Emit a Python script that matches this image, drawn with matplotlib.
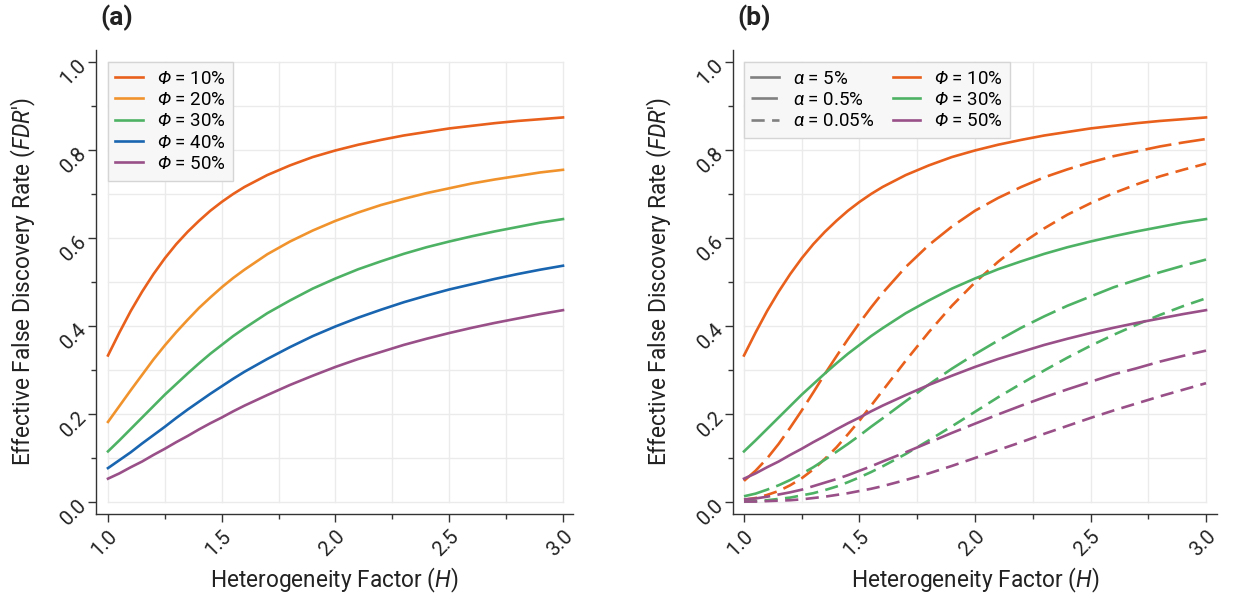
import numpy as np
import matplotlib
matplotlib.use("Agg")
import matplotlib.pyplot as plt
from matplotlib.lines import Line2D

plt.rcParams["font.family"] = ["Roboto", "DejaVu Sans"]
plt.rcParams["mathtext.fontset"] = "custom"
plt.rcParams["mathtext.rm"] = "Roboto"
plt.rcParams["mathtext.it"] = "Roboto:italic"
plt.rcParams["mathtext.bf"] = "Roboto:bold"
# \mathsf is used for italic symbols (mathtext keeps Greek capitals upright in \mathit)
plt.rcParams["mathtext.sf"] = "Roboto:italic"

# heterogeneity factor H
H = [1.0, 1.05, 1.1, 1.15, 1.2, 1.25, 1.3, 1.35, 1.4, 1.45, 1.5, 1.55, 1.6, 1.7, 1.8, 1.9,
     2.0, 2.1, 2.2, 2.3, 2.4, 2.5, 2.6, 2.7, 2.8, 2.9, 3.0]

# panel (a): alpha = 5%, one curve per Phi
phi_labels = ["10%", "20%", "30%", "40%", "50%"]
fdr_a_10 = [0.333, 0.385, 0.434, 0.478, 0.518, 0.554, 0.586, 0.614, 0.639, 0.662, 0.682, 0.700, 0.716, 0.743,
            0.765, 0.784, 0.799, 0.812, 0.823, 0.833, 0.841, 0.849, 0.855, 0.861, 0.866, 0.870, 0.874]
fdr_a_20 = [0.182, 0.218, 0.254, 0.289, 0.324, 0.356, 0.386, 0.414, 0.441, 0.465, 0.488, 0.509, 0.528, 0.563,
            0.592, 0.617, 0.639, 0.658, 0.675, 0.689, 0.702, 0.713, 0.724, 0.733, 0.741, 0.749, 0.755]
fdr_a_30 = [0.115, 0.140, 0.166, 0.192, 0.218, 0.244, 0.268, 0.292, 0.315, 0.337, 0.357, 0.377, 0.395, 0.429,
            0.458, 0.485, 0.508, 0.529, 0.547, 0.564, 0.579, 0.592, 0.604, 0.615, 0.625, 0.635, 0.643]
fdr_a_40 = [0.077, 0.095, 0.113, 0.133, 0.152, 0.171, 0.191, 0.210, 0.228, 0.246, 0.263, 0.280, 0.296, 0.325,
            0.352, 0.377, 0.399, 0.419, 0.437, 0.454, 0.469, 0.483, 0.495, 0.507, 0.518, 0.528, 0.537]
fdr_a_50 = [0.053, 0.065, 0.079, 0.092, 0.107, 0.121, 0.136, 0.150, 0.165, 0.179, 0.192, 0.206, 0.219, 0.243,
            0.266, 0.287, 0.307, 0.325, 0.341, 0.357, 0.371, 0.384, 0.396, 0.407, 0.417, 0.427, 0.436]

# panel (b): alpha = 0.5% and 0.05% for Phi = 10, 30, 50%
fdr_b05_10 = [0.048, 0.071, 0.099, 0.132, 0.169, 0.208, 0.249, 0.291, 0.331, 0.370, 0.407, 0.442, 0.475, 0.534,
              0.584, 0.626, 0.662, 0.691, 0.716, 0.738, 0.756, 0.772, 0.786, 0.797, 0.808, 0.817, 0.825]
fdr_b05_30 = [0.013, 0.019, 0.028, 0.038, 0.050, 0.064, 0.079, 0.096, 0.114, 0.132, 0.151, 0.171, 0.190, 0.229,
              0.267, 0.303, 0.336, 0.367, 0.396, 0.422, 0.446, 0.467, 0.488, 0.505, 0.522, 0.537, 0.551]
fdr_b05_50 = [0.006, 0.008, 0.012, 0.017, 0.022, 0.028, 0.036, 0.044, 0.052, 0.061, 0.071, 0.081, 0.092, 0.113,
              0.135, 0.157, 0.178, 0.199, 0.219, 0.238, 0.256, 0.273, 0.290, 0.304, 0.319, 0.332, 0.344]
fdr_b005_10 = [0.005, 0.009, 0.016, 0.025, 0.038, 0.054, 0.074, 0.098, 0.124, 0.154, 0.185, 0.219, 0.253, 0.321,
               0.386, 0.446, 0.499, 0.546, 0.587, 0.622, 0.653, 0.679, 0.702, 0.722, 0.740, 0.755, 0.769]
fdr_b005_30 = [0.001, 0.002, 0.004, 0.007, 0.010, 0.015, 0.020, 0.027, 0.035, 0.045, 0.056, 0.068, 0.081, 0.109,
               0.140, 0.172, 0.205, 0.238, 0.269, 0.299, 0.328, 0.355, 0.380, 0.403, 0.425, 0.445, 0.463]
fdr_b005_50 = [0.001, 0.001, 0.002, 0.003, 0.004, 0.006, 0.009, 0.012, 0.016, 0.020, 0.025, 0.030, 0.036, 0.050,
               0.065, 0.082, 0.100, 0.118, 0.136, 0.155, 0.173, 0.191, 0.208, 0.224, 0.240, 0.255, 0.270]

colors = ["#E8601C", "#F1932D", "#4EB265", "#1965B0", "#994F88"]
GRID = "#ebebeb"
SPINE = "#333333"
TEXT = "#222222"
LW = 1.9
LONG = (10, 2.8)
SHORT = (5, 2.8)


def style_axes(ax, xlim):
    ax.set_xlim(*xlim)
    ax.set_ylim(-0.0273, 1.0273)
    # grid only inside the data range
    for gx in np.arange(1.0, 3.01, 0.25):
        ax.plot([gx, gx], [0, 1], color=GRID, lw=1.0, zorder=0)
    for gy in np.arange(0.0, 1.01, 0.1):
        ax.plot([1, 3], [gy, gy], color=GRID, lw=1.0, zorder=0)
    for s in ["top", "right"]:
        ax.spines[s].set_visible(False)
    for s in ["left", "bottom"]:
        ax.spines[s].set_color(SPINE)
        ax.spines[s].set_linewidth(1.0)
    ax.set_xticks([1.0, 1.5, 2.0, 2.5, 3.0])
    ax.set_xticks([1.25, 1.75, 2.25, 2.75], minor=True)
    ax.set_yticks([0.0, 0.2, 0.4, 0.6, 0.8, 1.0])
    ax.set_yticks([0.1, 0.3, 0.5, 0.7, 0.9], minor=True)
    ax.set_xticklabels(["1.0", "1.5", "2.0", "2.5", "3.0"])
    ax.set_yticklabels(["0.0", "0.2", "0.4", "0.6", "0.8", "1.0"])
    ax.tick_params(which="major", length=6, width=1.0, color=SPINE, labelsize=14.5, labelcolor=TEXT, pad=3)
    ax.tick_params(which="minor", length=3.5, width=1.0, color=SPINE)
    for lab in ax.get_xticklabels():
        lab.set_rotation(45)
        lab.set_ha("right")
        lab.set_va("top")
        lab.set_rotation_mode("anchor")
    for lab in ax.get_yticklabels():
        lab.set_rotation(45)
        lab.set_ha("right")
        lab.set_va("center")
        lab.set_rotation_mode("anchor")
    ax.set_xlabel("Heterogeneity Factor ($\\mathsf{H}$)", fontsize=16.3, color=TEXT)
    ax.set_ylabel("Effective False Discovery Rate ($\\mathsf{FDR}$')", fontsize=16.3, color=TEXT)
    ax.xaxis.set_label_coords(0.5, -0.112)
    ax.yaxis.set_label_coords(-0.121, 0.5)


fig = plt.figure(figsize=(12.33, 6.06), dpi=100)
ax1 = fig.add_axes([96 / 1233, 92 / 606, 477 / 1233, 464 / 606])
ax2 = fig.add_axes([733 / 1233, 92 / 606, 484 / 1233, 464 / 606])

style_axes(ax1, (0.9473, 3.044))
style_axes(ax2, (0.9524, 3.0476))

leg_kw = dict(loc="upper left", borderaxespad=0, fontsize=13.5, frameon=True, fancybox=False,
              facecolor="#f7f7f7", edgecolor="#d5d5d5", framealpha=1,
              labelspacing=0.18, handlelength=1.45, handletextpad=0.75, borderpad=0.4)

# panel (a)
series_a = [fdr_a_10, fdr_a_20, fdr_a_30, fdr_a_40, fdr_a_50]
for vals, c, lab in zip(series_a, colors, phi_labels):
    ax1.plot(H, vals, color=c, lw=LW, label="$\\mathsf{Φ}$ = " + lab)
ax1.legend(bbox_to_anchor=(1.0, 1.0), bbox_transform=ax1.transData, **leg_kw)

# panel (b)
b_colors = [colors[0], colors[2], colors[4]]
b_solid = [fdr_a_10, fdr_a_30, fdr_a_50]
b_long = [fdr_b05_10, fdr_b05_30, fdr_b05_50]
b_short = [fdr_b005_10, fdr_b005_30, fdr_b005_50]
for c, s, l, sh in zip(b_colors, b_solid, b_long, b_short):
    ax2.plot(H, s, color=c, lw=LW)
    ax2.plot(H, l, color=c, lw=LW, dashes=LONG)
    ax2.plot(H, sh, color=c, lw=LW, dashes=SHORT)

gray = "#808080"
handles = [
    Line2D([], [], color=gray, lw=LW),
    Line2D([], [], color=gray, lw=LW, dashes=LONG),
    Line2D([], [], color=gray, lw=LW, dashes=SHORT),
    Line2D([], [], color=colors[0], lw=LW),
    Line2D([], [], color=colors[2], lw=LW),
    Line2D([], [], color=colors[4], lw=LW),
]
labels = ["$\\mathsf{α}$ = 5%", "$\\mathsf{α}$ = 0.5%", "$\\mathsf{α}$ = 0.05%",
          "$\\mathsf{Φ}$ = 10%", "$\\mathsf{Φ}$ = 30%", "$\\mathsf{Φ}$ = 50%"]
ax2.legend(handles, labels, ncol=2, columnspacing=1.0,
           bbox_to_anchor=(1.0, 1.0), bbox_transform=ax2.transData, **leg_kw)

fig.text(100 / 1233, 1 - 18 / 606, "(a)", fontsize=19, fontweight="bold", ha="left", va="center", color=TEXT)
fig.text(737 / 1233, 1 - 18 / 606, "(b)", fontsize=19, fontweight="bold", ha="left", va="center", color=TEXT)

fig.savefig("out.png", dpi=100)
